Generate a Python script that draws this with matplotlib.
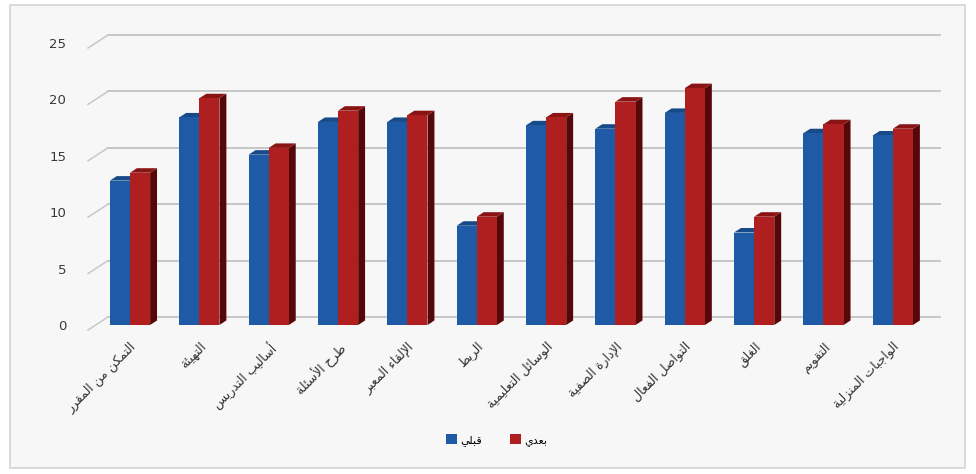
import matplotlib
matplotlib.use("Agg")
import matplotlib.pyplot as plt
import numpy as np
from matplotlib.patches import Rectangle, Polygon
from matplotlib.lines import Line2D
import matplotlib.transforms as mtransforms

# ---------------- data ----------------
categories = ["التمكن من المقرر", "التهيئة", "أساليب التدريس", "طرح الأسئلة",
              "الإلقاء المعبر", "الربط", "الوسائل التعليمية", "الإدارة الصفية",
              "التواصل الفعال", "الغلق", "التقويم", "الواجبات المنزلية"]
pre_values = [12.8, 18.4, 15.1, 18.0, 18.0, 8.8, 17.7, 17.4, 18.8, 8.2, 17.0, 16.8]
post_values = [13.5, 20.1, 15.7, 19.0, 18.6, 9.6, 18.4, 19.8, 21.0, 9.6, 17.8, 17.4]
series_names = ["قبلي", "بعدي"]
y_ticks = [0, 5, 10, 15, 20, 25]

# ---------------- minimal Arabic shaping ----------------
FORMS = {
    'ء': (0xFE80,), 'آ': (0xFE81, 0xFE82), 'أ': (0xFE83, 0xFE84), 'ؤ': (0xFE85, 0xFE86),
    'إ': (0xFE87, 0xFE88), 'ئ': (0xFE89, 0xFE8A, 0xFE8B, 0xFE8C), 'ا': (0xFE8D, 0xFE8E),
    'ب': (0xFE8F, 0xFE90, 0xFE91, 0xFE92), 'ة': (0xFE93, 0xFE94),
    'ت': (0xFE95, 0xFE96, 0xFE97, 0xFE98), 'ث': (0xFE99, 0xFE9A, 0xFE9B, 0xFE9C),
    'ج': (0xFE9D, 0xFE9E, 0xFE9F, 0xFEA0), 'ح': (0xFEA1, 0xFEA2, 0xFEA3, 0xFEA4),
    'خ': (0xFEA5, 0xFEA6, 0xFEA7, 0xFEA8), 'د': (0xFEA9, 0xFEAA), 'ذ': (0xFEAB, 0xFEAC),
    'ر': (0xFEAD, 0xFEAE), 'ز': (0xFEAF, 0xFEB0), 'س': (0xFEB1, 0xFEB2, 0xFEB3, 0xFEB4),
    'ش': (0xFEB5, 0xFEB6, 0xFEB7, 0xFEB8), 'ص': (0xFEB9, 0xFEBA, 0xFEBB, 0xFEBC),
    'ض': (0xFEBD, 0xFEBE, 0xFEBF, 0xFEC0), 'ط': (0xFEC1, 0xFEC2, 0xFEC3, 0xFEC4),
    'ظ': (0xFEC5, 0xFEC6, 0xFEC7, 0xFEC8), 'ع': (0xFEC9, 0xFECA, 0xFECB, 0xFECC),
    'غ': (0xFECD, 0xFECE, 0xFECF, 0xFED0), 'ف': (0xFED1, 0xFED2, 0xFED3, 0xFED4),
    'ق': (0xFED5, 0xFED6, 0xFED7, 0xFED8), 'ك': (0xFED9, 0xFEDA, 0xFEDB, 0xFEDC),
    'ل': (0xFEDD, 0xFEDE, 0xFEDF, 0xFEE0), 'م': (0xFEE1, 0xFEE2, 0xFEE3, 0xFEE4),
    'ن': (0xFEE5, 0xFEE6, 0xFEE7, 0xFEE8), 'ه': (0xFEE9, 0xFEEA, 0xFEEB, 0xFEEC),
    'و': (0xFEED, 0xFEEE), 'ى': (0xFEEF, 0xFEF0), 'ي': (0xFEF1, 0xFEF2, 0xFEF3, 0xFEF4),
}
LAM_ALEF = {'آ': (0xFEF5, 0xFEF6), 'أ': (0xFEF7, 0xFEF8), 'إ': (0xFEF9, 0xFEFA), 'ا': (0xFEFB, 0xFEFC)}


def shape(text):
    chars = list(text)
    out = []
    i = 0
    n = len(chars)

    def joins_next(c):
        return c in FORMS and len(FORMS[c]) == 4

    while i < n:
        c = chars[i]
        if c not in FORMS:
            out.append(c)
            i += 1
            continue
        prev = chars[i - 1] if i > 0 else None
        jp = prev is not None and joins_next(prev)
        if c == 'ل' and i + 1 < n and chars[i + 1] in LAM_ALEF:
            f = LAM_ALEF[chars[i + 1]]
            out.append(chr(f[1] if jp else f[0]))
            i += 2
            continue
        nxt = chars[i + 1] if i + 1 < n else None
        jn = joins_next(c) and nxt is not None and nxt in FORMS
        f = FORMS[c]
        if len(f) == 1:
            code = f[0]
        elif len(f) == 2:
            code = f[1] if jp else f[0]
        else:
            if jp and jn:
                code = f[3]
            elif jp:
                code = f[1]
            elif jn:
                code = f[2]
            else:
                code = f[0]
        out.append(chr(code))
        i += 1
    return ''.join(reversed(out))


plt.rcParams['font.family'] = ['DejaVu Sans']

W, H = 976, 474
fig = plt.figure(figsize=(W / 100, H / 100), dpi=100)
fig.patch.set_facecolor('white')

# chart area frame
fig.add_artist(Rectangle((10 / W, 1 - 468 / H), 955 / W, 463 / H, transform=fig.transFigure,
                         facecolor='#f7f7f7', edgecolor='#d4d4d4', lw=1.2, zorder=0))

ax_left, ax_right = 108, 940
y0_px, y25_px = 325, 43
ax = fig.add_axes([ax_left / W, 1 - y0_px / H, (ax_right - ax_left) / W, (y0_px - y25_px) / H])
ax.set_facecolor('none')
for s in ax.spines.values():
    s.set_visible(False)

ax.set_ylim(0, 25)
ax.set_xlim(-0.317, 11.68)

# gridlines (back wall, slightly raised) and floor diagonals
grid_tr = mtransforms.offset_copy(ax.transData, fig=fig, x=0, y=8, units='dots')
for v in y_ticks:
    ax.plot([-0.317, 11.68], [v, v], color='#c2c2c2', lw=1.3, transform=grid_tr, zorder=1,
            clip_on=False)
fig.canvas.draw()
for v in y_ticks:
    xb, yb = ax.transData.transform((-0.317, v))
    yb += 8
    fig.add_artist(Line2D([(xb - 20) / W, xb / W], [(yb - 13) / H, yb / H],
                          transform=fig.transFigure, color='#c8c8c8', lw=1.1))

ax.set_yticks(y_ticks)
ax.set_yticklabels([str(v) for v in y_ticks], fontsize=9.5, color='#3a3a3a')
ax.tick_params(axis='y', length=0, pad=30)

# bars with pseudo-3D faces
x = np.arange(len(categories))
bw = 0.29
dx, dy = 0.10, 0.40
blue_front, blue_top = '#1f5aa6', '#174a88'
red_front, red_top, red_side = '#b01f1f', '#8a1414', '#560808'

ax.bar(x - bw / 2, pre_values, width=bw, color=blue_front, zorder=3, label=series_names[0])
ax.bar(x + bw / 2, post_values, width=bw, color=red_front, zorder=3, label=series_names[1])
for xi, pv, qv in zip(x, pre_values, post_values):
    l, r = xi - bw, xi
    ax.add_patch(Polygon([(l, pv), (r, pv), (r + dx, pv + dy), (l + dx, pv + dy)],
                         closed=True, facecolor=blue_top, edgecolor='none', zorder=2))
    l, r = xi, xi + bw
    ax.add_patch(Polygon([(r, 0), (r + dx, dy), (r + dx, qv + dy), (r, qv)],
                         closed=True, facecolor=red_side, edgecolor='none', zorder=2))
    ax.add_patch(Polygon([(l, qv), (r, qv), (r + dx, qv + dy), (l + dx, qv + dy)],
                         closed=True, facecolor=red_top, edgecolor='none', zorder=2))

ax.set_xticks(x)
ax.set_xticklabels([shape(c) for c in categories], rotation=45, ha='right',
                   rotation_mode='anchor', fontsize=9, color='#333333')
ax.tick_params(axis='x', length=0, pad=11)

leg = fig.legend(*ax.get_legend_handles_labels(), loc='center', bbox_to_anchor=(497 / W, 1 - 440 / H),
                 ncol=2, frameon=False, fontsize=8, handlelength=1.0, handleheight=0.9,
                 columnspacing=2.5, handletextpad=0.3)
for t in leg.get_texts():
    t.set_text(shape(t.get_text()))

fig.savefig('out.png', dpi=100)
